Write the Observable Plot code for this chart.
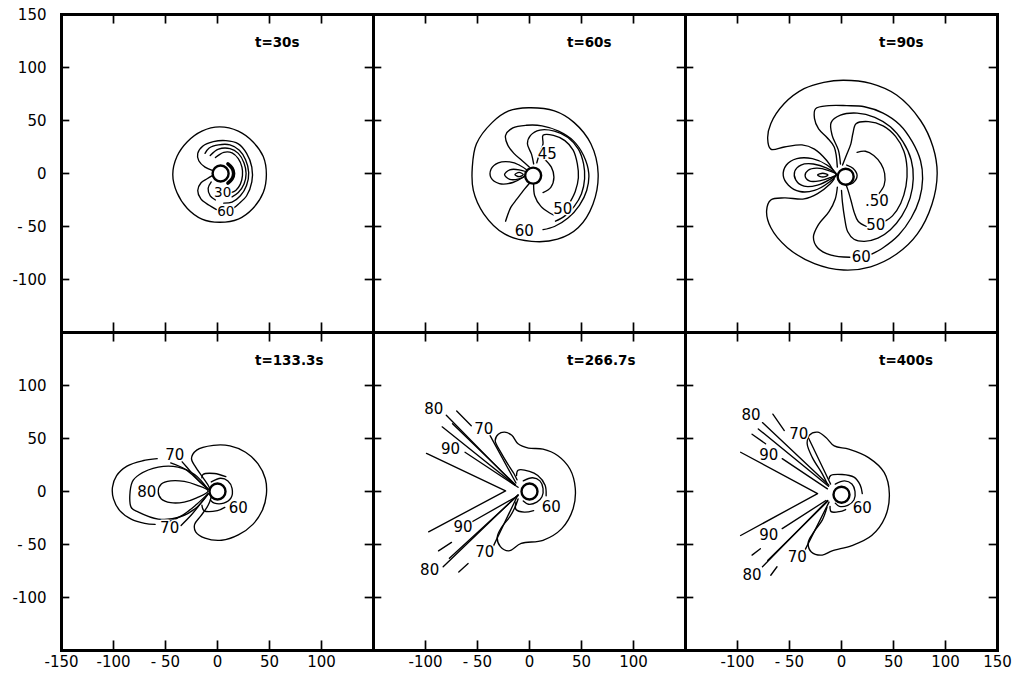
<!DOCTYPE html>
<html>
<head>
<meta charset="utf-8">
<script src="https://cdn.jsdelivr.net/npm/d3@7"></script>
<script src="https://cdn.jsdelivr.net/npm/@observablehq/plot@0.6"></script>
<style>
  html, body { margin: 0; padding: 0; background: #fff; }
  #chart { width: 1020px; height: 679px; }
</style>
</head>
<body>
<div id="chart"></div>
<script>
// Six snapshots of the same field, laid out 3 x 2.
const panelTitles = ["t=30s", "t=60s", "t=90s", "t=133.3s", "t=266.7s", "t=400s"];

// Axis ticks (all panels) and the tick labels printed on the outer edges.
const tickValues = [-100, -50, 0, 50, 100];
const xLabelsByColumn = [
  [-150, -100, -50, 0, 50, 100],
  [-100, -50, 0, 50, 100],
  [-100, -50, 0, 50, 100, 150]
];
const yLabelsByRow = [
  [150, 100, 50, 0, -50, -100],
  [100, 50, 0, -50, -100]
];

// Centre of the small body in each panel.
const bodyCenters = [[3, 0], [3.5, -2], [4, -3], [0, 0], [0, 0], [0, -3]];

// Contour lines, one list per panel.
// kind: "open" smooth curve, "closed" smooth loop, "straight" polyline, "heavy" thick curve.
const contours30 = [
  {kind: "closed", pts: [[47,-1],[44,16],[34,30],[20,40],[2,44],[-15,40],[-29,30],[-39,16],[-43,-1],[-39,-18],[-29,-33],[-15,-43],[2,-46],[20,-43],[34,-33],[44,-18]]},
  {kind: "open", pts: [[-5,3],[-12,6],[-18,12],[-19,19],[-14,26],[-4,30],[8,31],[20,28],[28,19],[33,6],[33,-8],[28,-21],[20,-29],[15,-33]]},
  {kind: "open", pts: [[-1,-34],[-8,-30],[-16,-24],[-19,-16],[-16,-9],[-10,-5],[-5,-2]]},
  {kind: "open", pts: [[-12,19],[-8,24],[1,27],[12,27],[21,22],[27,13],[30,1],[28,-11],[22,-21],[14,-27],[6,-28]]},
  {kind: "open", pts: [[-7,17],[1,23],[12,23.5],[20,19],[25.5,10],[27.5,0],[25.5,-10],[20,-18],[14,-22]]},
  {kind: "open", pts: [[-2,15],[6,20],[14,19.5],[20,14],[23.5,6],[24,-2],[22,-10],[17.5,-16],[13,-18]]},
  {kind: "open", pts: [[-6,-8],[-9,-14],[-7,-21],[-2,-25]]},
  {kind: "heavy", pts: [[10,9],[14,5],[15.5,0],[14,-5],[10,-9]]}
];
const contours60 = [
  {kind: "closed", pts: [[-1,62],[24,59],[43,48],[59,28],[66,0],[61,-29],[47,-51],[27,-62],[2,-64],[-24,-57],[-44,-38],[-54,-16],[-55,6],[-51,28],[-36,48],[-20,59]]},
  {kind: "closed", pts: [[-1,1],[-10,8],[-19,11],[-30,10],[-37,4],[-37,-4],[-29,-9.5],[-16,-8.5],[-7,-4]]},
  {kind: "closed", pts: [[-2,0.5],[-10,3.5],[-19,3.5],[-24,-1],[-19,-5.5],[-10,-5],[-3,-1.5]]},
  {kind: "closed", pts: [[-6,-1],[-10,1],[-14,-1],[-10,-3]]},
  {kind: "open", pts: [[0,6],[-7,12],[-15,19],[-21,27],[-23,36],[-16,43],[-3,45.5],[12,45],[28,40],[42,31],[52,17],[57,0],[55,-16],[48,-30],[37,-42],[24,-50],[13,-53]]},
  {kind: "open", pts: [[1,-8],[-5,-15],[-12,-24],[-18,-32],[-23,-45]]},
  {kind: "open", pts: [[4,9],[2,18],[-2,28],[1,36],[10,41],[24,40],[37,34],[47,23],[52,9],[53,-5],[50,-19],[43,-31],[34,-40],[25,-45]]},
  {kind: "open", pts: [[7,10],[10,20],[13,28],[13,36],[23,36],[34,31],[42,22],[46,9],[47,-4],[44,-17],[39,-27]]},
  {kind: "open", pts: [[4,-9],[5,-21],[11,-31],[19,-37],[23,-39]]},
  {kind: "open", pts: [[14,14],[21,6],[23.5,-3.5],[20.5,-13],[13,-18]]}
];
const contours90 = [
  {kind: "open", pts: [[-8,3],[-14,12],[-26,23],[-38,27],[-55,25],[-68,23],[-71,33],[-68,47],[-55,66],[-36,80],[-17,86],[2,88],[28,85],[53,74],[76,50],[88,25],[92,0],[87,-29],[73,-57],[53,-76],[28,-88],[2,-91],[-26,-85],[-52,-70],[-68,-51],[-72,-35],[-68,-25],[-55,-23],[-36,-24],[-23,-19],[-11,-10],[-7,-5]]},
  {kind: "open", pts: [[-4,6],[-7,25],[-14,34],[-22,42],[-26,52],[-25,61],[-12,64],[5,64],[22,63],[40,57],[56,46],[68,30],[76,12],[78,-5],[75,-24],[67,-42],[55,-58],[40,-70],[29,-76]]},
  {kind: "open", pts: [[8,-79],[-10,-77],[-23,-70],[-27,-60],[-22,-48],[-12,-36],[-6,-24],[-4,-13]]},
  {kind: "open", pts: [[-1,9],[-3,22],[-9,36],[-10,48],[-1,55],[15,57],[32,53],[47,44],[59,30],[67,13],[69,-5],[66,-23],[58,-40],[47,-53],[35,-61],[22,-64],[12,-62],[6,-55],[3,-42],[1,-28],[0,-16]]},
  {kind: "open", pts: [[1,8],[5,18],[9,28],[11,38],[14,47],[26,49],[40,45],[52,35],[60,21],[63,5],[62,-12],[57,-28],[49,-40],[42,-45]]},
  {kind: "open", pts: [[24,-50],[16,-45],[12,-36],[9,-25],[6,-15],[4,-10]]},
  {kind: "open", pts: [[15,20],[23,21],[31,17],[38,9],[41.5,0],[41,-11],[36,-19]]},
  {kind: "open", pts: [[5,8],[11,5],[15,-2],[11,-9],[5,-11]]},
  {kind: "closed", pts: [[-5,-1],[-14,8],[-28,14],[-43,14],[-53,8],[-56,-2],[-51,-11],[-40,-17],[-26,-16],[-13,-9]]},
  {kind: "closed", pts: [[-5,-1],[-14,5],[-27,9],[-39,8],[-45,2],[-44,-6],[-36,-12],[-23,-11],[-12,-6]]},
  {kind: "closed", pts: [[-5,-1],[-13,3],[-24,5],[-32,3],[-35,-2],[-31,-7],[-21,-7],[-11,-4]]},
  {kind: "closed", pts: [[-13,-1.5],[-18,0.2],[-23,-1.5],[-18,-3.3]]}
];
const contours133 = [
  {kind: "closed", pts: [[-8,4],[-14,13],[-21,23],[-25,31],[-20,39],[-4,43.5],[12,43],[27,37],[39,26],[46,12],[47,-3],[43,-18],[34,-31],[20,-41],[4,-46],[-12,-44],[-21,-38],[-22,-31],[-16,-23],[-9,-13],[-6,-4]]},
  {kind: "open", pts: [[-58,31],[-72,29],[-87,24],[-97,15],[-101,4],[-100,-7],[-94,-18],[-83,-26],[-70,-30],[-60,-31]]},
  {kind: "open", pts: [[-34,28],[-26,19],[-17,9],[-9,2.5]]},
  {kind: "open", pts: [[-35,-32],[-25,-22],[-16,-11],[-9,-2.5]]},
  {kind: "open", pts: [[-45,27],[-31,21],[-19,11],[-9,2]]},
  {kind: "open", pts: [[-48,-29],[-33,-22],[-20,-12],[-9,-2]]},
  {kind: "open", pts: [[-9,2],[-22,16],[-38,23],[-57,23],[-75,16],[-82,9],[-83,-15],[-76,-19.5],[-57,-26],[-36,-24],[-20,-15],[-9,-2]]},
  {kind: "closed", pts: [[-9,0.5],[-20,6],[-32,9.5],[-45,10],[-54,7],[-57,0],[-54,-7],[-45,-10.5],[-32,-10],[-20,-6]]},
  {kind: "open", pts: [[-6,9],[3,12.5],[10,10],[14,3],[13,-6],[6,-11],[-3,-11],[-7,-8]]},
  {kind: "open", pts: [[-15,13],[-14,16],[-3,17],[8,14]]},
  {kind: "open", pts: [[-15,-13],[-13,-18],[0,-18],[7,-15]]}
];
const contours267 = [
  {kind: "straight", pts: [[-99,36],[-23,0.5],[-97,-38]]},
  {kind: "straight", pts: [[-80,72],[-15,7]]},
  {kind: "straight", pts: [[-84,61],[-14,6]]},
  {kind: "straight", pts: [[-74,64],[-13.5,6.5]]},
  {kind: "straight", pts: [[-70,76],[-56,62]]},
  {kind: "straight", pts: [[-62,37],[-11,4]]},
  {kind: "straight", pts: [[-38,53],[-13,8]]},
  {kind: "straight", pts: [[-87.5,-56],[-75,-48]]},
  {kind: "straight", pts: [[-83,-71],[-11,-3]]},
  {kind: "straight", pts: [[-77,-63],[-11,-3.5]]},
  {kind: "straight", pts: [[-68,-76],[-59,-68]]},
  {kind: "straight", pts: [[-35,-52],[-12,-5]]},
  {kind: "straight", pts: [[-56,-29],[-11,-4]]},
  {kind: "open", pts: [[-12,11],[-15,17],[-19,23],[-27,36],[-33,48],[-30,54],[-24,56],[-17,53],[-11,45],[-1,41],[13,40],[27,34],[39,21],[44,3],[42,-16],[31,-35],[13,-46],[-8,-49],[-20,-56],[-28,-52],[-31,-43],[-27,-34],[-19,-24],[-14,-15],[-11,-7]]},
  {kind: "open", pts: [[-6,10],[3,13],[10,10],[13,3],[12,-5],[7,-10],[-1,-12],[-6,-9]]},
  {kind: "open", pts: [[-12.5,15],[-11,20],[0,19],[8,15],[15,6],[16,-4]]},
  {kind: "open", pts: [[-13,-10],[-13,-17],[-5,-19.5],[4,-18]]}
];
const contours400 = [
  {kind: "straight", pts: [[-97,37],[-23,-2],[-97,-41.5]]},
  {kind: "straight", pts: [[-66,73],[-55,57.5]]},
  {kind: "straight", pts: [[-76,65],[-12,6]]},
  {kind: "straight", pts: [[-86,54],[-73,45]]},
  {kind: "straight", pts: [[-80,59],[-12.5,5]]},
  {kind: "straight", pts: [[-57,31],[-13.5,2.5]]},
  {kind: "straight", pts: [[-33,53],[-10.5,7]]},
  {kind: "straight", pts: [[-57,-35],[-15,-8.5]]},
  {kind: "straight", pts: [[-36,-57],[-12,-10]]},
  {kind: "straight", pts: [[-86,-60],[-78,-54]]},
  {kind: "straight", pts: [[-76,-71],[-13.5,-8.5]]},
  {kind: "straight", pts: [[-71,-65],[-13,-9]]},
  {kind: "straight", pts: [[-68,-79],[-62,-71]]},
  {kind: "open", pts: [[-13.7,7.3],[-18.5,16.7],[-28,32],[-33,45],[-31,53],[-23,56],[-15,51],[-7,43],[7,40],[26,32],[41,18],[46,-2],[42,-24],[29,-41.5],[10,-51],[-9,-56],[-18.5,-60],[-29,-57],[-32,-48],[-26.5,-38],[-18.5,-27],[-14,-15]]},
  {kind: "open", pts: [[-6,7],[3,10],[10,7],[13,0],[12,-8],[6,-13],[-2,-14],[-6,-11]]},
  {kind: "open", pts: [[-12,12],[-10.5,15],[0.6,16],[12,13.5],[18,6],[20,-2]]},
  {kind: "open", pts: [[-11,-14],[-10,-19],[-2,-19],[4,-17]]}
];

// Contour value labels: [text, x, y] per panel.
const labels30 = [["30", 5, -18], ["60", 8, -36]];
const labels60 = [["45", 17, 18], ["50", 32, -34], ["60", -5, -54]];
const labels90 = [[".50", 34, -26], ["50", 33, -49], ["60", 19, -79]];
const labels133 = [["70", -41, 34], ["80", -68, -1], ["70", -46, -35], ["60", 20, -16]];
const labels267 = [["80", -92, 78], ["70", -44, 59], ["90", -76, 40], ["90", -64, -34], ["70", -43, -57], ["80", -96, -74], ["60", 21, -15]];
const labels400 = [["80", -87, 72], ["70", -41, 54], ["90", -70, 34], ["90", -70, -41.5], ["70", -42.5, -62], ["80", -86, -79], ["60", 20, -16]];

const contourSets = [contours30, contours60, contours90, contours133, contours267, contours400];
const labelSets = [labels30, labels60, labels90, labels133, labels267, labels400];

// Flatten into tidy rows with facet keys.
const col = i => i % 3;
const row = i => Math.floor(i / 3);
const pathRows = [];
contourSets.forEach((set, i) => set.forEach((path, j) => path.pts.forEach(([x, y]) =>
  pathRows.push({col: col(i), row: row(i), id: `${i}-${j}`, kind: path.kind, x, y}))));
const labelRows = [];
labelSets.forEach((set, i) => set.forEach(([text, x, y]) => labelRows.push({col: col(i), row: row(i), text, x, y, small: i === 0})));
const bodies = bodyCenters.map(([x, y], i) => ({col: col(i), row: row(i), x, y}));
const titles = panelTitles.map((t, i) => ({col: col(i), row: row(i), t}));
const xLabelRows = xLabelsByColumn.flatMap((vals, c) => vals.map(v => ({col: c, row: 1, v})));
const yLabelRows = yLabelsByRow.flatMap((vals, r) => vals.map(v => ({col: 0, row: r, v})));
const fmt = v => (v === -50 ? "- 50" : String(v));

const lineOpts = {x: "x", y: "y", z: "id", fx: "col", fy: "row", stroke: "black", strokeWidth: 1.35, strokeLinejoin: "round", strokeLinecap: "round"};

const chart = Plot.plot({
  width: 1020,
  height: 679,
  marginLeft: 60,
  marginRight: 22,
  marginTop: 13,
  marginBottom: 29,
  style: {fontFamily: "DejaVu Sans, sans-serif", fontSize: "15px", background: "white", color: "black", overflow: "visible"},
  x: {domain: [-150, 150], axis: null},
  y: {domain: [-150, 150], axis: null},
  fx: {domain: [0, 1, 2], padding: 0, axis: null},
  fy: {domain: [0, 1], padding: 0, axis: null},
  marks: [
    // inward ticks on all four sides of each panel
    Plot.ruleX(tickValues, {x: d => d, y1: 150, y2: 141, stroke: "black", strokeWidth: 1.7}),
    Plot.ruleX(tickValues, {x: d => d, y1: -150, y2: -141, stroke: "black", strokeWidth: 1.7}),
    Plot.ruleY(tickValues, {y: d => d, x1: -150, x2: -142, stroke: "black", strokeWidth: 1.7}),
    Plot.ruleY(tickValues, {y: d => d, x1: 150, x2: 142, stroke: "black", strokeWidth: 1.7}),

    // contour lines
    Plot.line(pathRows.filter(d => d.kind === "open"), {...lineOpts, curve: "catmull-rom"}),
    Plot.line(pathRows.filter(d => d.kind === "closed"), {...lineOpts, curve: "catmull-rom-closed"}),
    Plot.line(pathRows.filter(d => d.kind === "straight"), {...lineOpts, curve: "linear"}),
    Plot.line(pathRows.filter(d => d.kind === "heavy"), {...lineOpts, curve: "catmull-rom", strokeWidth: 3.5}),

    // the body at the centre
    Plot.dot(bodies, {x: "x", y: "y", fx: "col", fy: "row", r: 8, fill: "white", stroke: "black", strokeWidth: 2.4}),

    // contour value labels
    Plot.text(labelRows.filter(d => !d.small), {x: "x", y: "y", fx: "col", fy: "row", text: "text", fontSize: 15, fill: "black", stroke: "white", strokeWidth: 3}),
    Plot.text(labelRows.filter(d => d.small), {x: "x", y: "y", fx: "col", fy: "row", text: "text", fontSize: 13.5, fill: "black", stroke: "white", strokeWidth: 2.5}),

    // panel titles
    Plot.text(titles, {x: 36, y: 123, fx: "col", fy: "row", text: "t", textAnchor: "start", fontSize: 13.5, fontWeight: "bold", fill: "black"}),

    // tick labels on the outer edges
    Plot.text(xLabelRows, {x: "v", y: -150, fx: "col", fy: "row", text: d => fmt(d.v), lineAnchor: "top", dy: 6, fontSize: 15, fill: "black"}),
    Plot.text(yLabelRows, {x: -150, y: "v", fx: "col", fy: "row", text: d => fmt(d.v), textAnchor: "end", dx: -15, dy: 1, fontSize: 15, fill: "black"}),

    Plot.frame({stroke: "black", strokeWidth: 3})
  ]
});
document.getElementById("chart").appendChild(chart);
</script>
</body>
</html>
